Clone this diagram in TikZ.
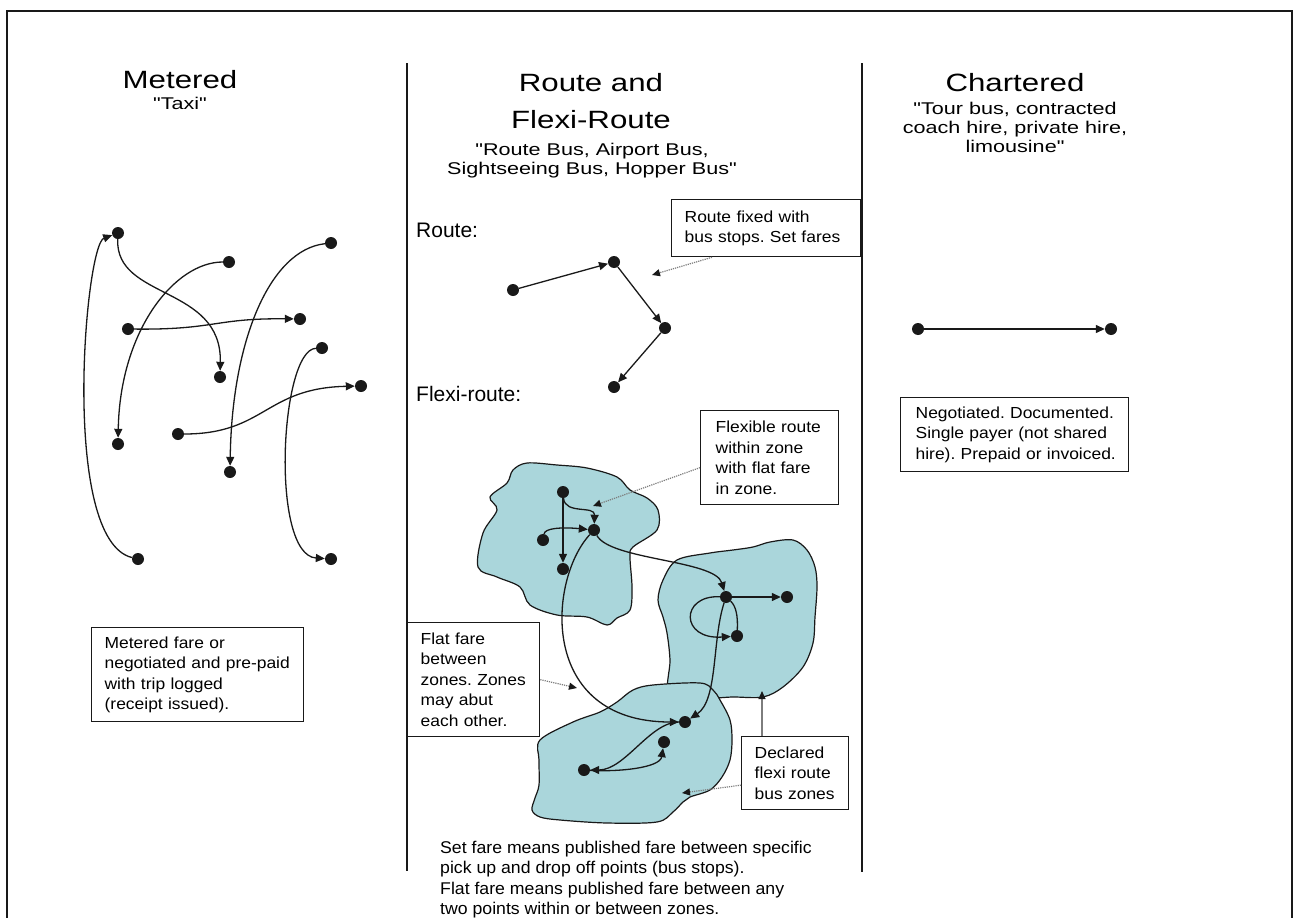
\documentclass[tikz,border=0pt]{standalone}
\usepackage{fontspec}
\setmainfont{Liberation Sans}
\newfontfamily\headfont{Liberation Sans}[FakeStretch=1.25]
\newfontfamily\subfont{Liberation Sans}[FakeStretch=1.27]
\newfontfamily\boxfont{Liberation Sans}[FakeStretch=1.09]
\newfontfamily\botfont{Liberation Sans}[FakeStretch=1.04]
\usetikzlibrary{arrows.meta,calc}
\definecolor{zonefill}{RGB}{170,214,219}
\definecolor{callgray}{RGB}{125,125,125}
\definecolor{ink}{RGB}{25,25,25}
\frenchspacing
\begin{document}
\begin{tikzpicture}[x=1pt,y=-1pt,
  dot/.style={circle,fill=ink,inner sep=0pt,minimum size=12pt},
  conn/.style={ink,line width=1.3pt,-{Triangle[length=9pt,width=8pt]}},
  plainconn/.style={ink,line width=1.3pt},
  callout/.style={callgray,line width=1.2pt,densely dotted,-{Triangle[length=8pt,width=7pt,color=ink]}},
  solidcallout/.style={callgray,line width=1.2pt,-{Triangle[length=8pt,width=7pt,color=ink]}},
  zone/.style={fill=zonefill,draw=ink,line width=1.2pt},
  head/.style={font=\headfont\fontsize{25}{30}\selectfont,anchor=base,inner sep=0pt},
  sub/.style={font=\subfont\fontsize{17}{20}\selectfont,anchor=base,inner sep=0pt},
  lab/.style={font=\fontsize{21}{25}\selectfont,anchor=base west,inner sep=0pt},
  txtbox/.style={draw=ink,line width=1.3pt,font=\boxfont\fontsize{16}{20.5}\selectfont,
     align=left,inner xsep=13pt,inner ysep=0pt,anchor=north west},
  bot/.style={font=\botfont\fontsize{17}{20}\selectfont,anchor=base west,inner sep=0pt}
]
\useasboundingbox (0,0) rectangle (1293,918);
% frame and dividers
\draw[ink,line width=1.5pt] (7,918) -- (7,11) -- (1292,11) -- (1292,918);
\draw[ink,line width=1.3pt] (407,63) -- (407,871);
\draw[ink,line width=1.3pt] (862,63) -- (862,872);

% headings
\node[head] (hmet) at (180,88) {Metered};
\node[sub] (smet) at (180,109) {"Taxi"};
\node[head] (hroute1) at (591,91) {Route and};
\node[head] (hroute2) at (591,128) {Flexi-Route};
\node[sub] (sroute1) at (592,155) {"Route Bus, Airport Bus,};
\node[sub] (sroute2) at (592,174) {Sightseeing Bus, Hopper Bus"};
\node[head] (hchar) at (1015,91) {Chartered};
\node[sub] (schar1) at (1015,114) {"Tour bus, contracted};
\node[sub] (schar2) at (1015,133) {coach hire, private hire,};
\node[sub] (schar3) at (1015,152) {limousine"};

% labels
\node[lab] (lroute) at (416,237) {Route:};
\node[lab] (lflexi) at (416,401) {Flexi-route:};

% text boxes
\node[txtbox,minimum width=189pt,minimum height=57pt,text width=163pt] (routebox) at (671,199)
  {\mbox{Route fixed with}\\\mbox{bus stops. Set fares}};
\node[txtbox,minimum width=212pt,minimum height=94pt,text width=186pt] (meterbox) at (91,627)
  {\mbox{Metered fare or}\\\mbox{negotiated and pre-paid}\\\mbox{with trip logged}\\\mbox{(receipt issued).}};
\node[txtbox,inner xsep=15pt,minimum width=228pt,minimum height=74pt,text width=198pt] (charbox) at (900,397)
  {\mbox{Negotiated. Documented.}\\\mbox{Single payer (not shared}\\\mbox{hire). Prepaid or invoiced.}};
\node[txtbox,inner xsep=15pt,minimum width=138pt,minimum height=94pt,text width=108pt] (flexbox) at (700,410)
  {\mbox{Flexible route}\\\mbox{within zone}\\\mbox{with flat fare}\\\mbox{in zone.}};
\node[txtbox,minimum width=132pt,minimum height=114pt,text width=106pt] (flatbox) at (407,622)
  {\mbox{Flat fare}\\\mbox{between}\\\mbox{zones. Zones}\\\mbox{may abut}\\\mbox{each other.}};
\node[txtbox,minimum width=107pt,minimum height=73pt,text width=81pt] (declbox) at (741,736)
  {\mbox{Declared}\\\mbox{flexi route}\\\mbox{bus zones}};

% bottom text
\node[bot] (b1) at (440,853) {Set fare means published fare between specific};
\node[bot] (b2) at (440,873) {pick up and drop off points (bus stops).};
\node[bot] (b3) at (440,894) {Flat fare means published fare between any};
\node[bot] (b4) at (440,914) {two points within or between zones.};

% zones
\draw[zone] plot[smooth cycle,tension=0.55] coordinates {
 (527,463) (557,465) (587,468) (617,477) (630,490) (647,498) (658,510) (657,530)
 (633,547) (630,557) (632,587) (630,610) (617,618) (607,625) (587,617) (557,615)
 (530,605) (520,587) (497,577) (478,567) (483,533) (497,510) (490,497) (507,483) (513,470)};
\draw[zone] plot[smooth cycle,tension=0.55] coordinates {
 (710,553) (733,550) (753,547) (770,542) (793,540) (807,550) (815,567) (817,587)
 (815,617) (813,643) (803,667) (783,687) (763,697) (733,697) (713,698) (670,698)
 (670,660) (667,633) (663,617) (658,600) (663,580) (677,560)};
\draw[zone] plot[smooth cycle,tension=0.55] coordinates {
 (617,702) (633,690) (653,685) (700,683) (713,690) (720,700) (730,720) (732,740)
 (730,760) (722,777) (710,790) (690,797) (683,802) (673,812) (657,822) (607,823)
 (560,820) (540,817) (532,810) (535,798) (539,785) (539,760) (540,740) (573,722) (600,712)};

% left panel dots
\node[dot] (P1) at (118,233) {};
\node[dot] (P2) at (229,262) {};
\node[dot] (P3) at (331,243) {};
\node[dot] (P4) at (128,329) {};
\node[dot] (P5) at (300,319) {};
\node[dot] (P6) at (220,377) {};
\node[dot] (P7) at (322,348) {};
\node[dot] (P8) at (361,386) {};
\node[dot] (P9) at (118,444) {};
\node[dot] (P10) at (178,434) {};
\node[dot] (P11) at (230,472) {};
\node[dot] (P12) at (138,559) {};
\node[dot] (P13) at (331,559) {};

\draw[conn] (P12) .. controls (60,540) and (85,245) .. (P1);
\draw[conn] (P1) .. controls (115,300) and (222,285) .. (P6);
\draw[conn] (P4) .. controls (215,330) and (215,318) .. (P5);
\draw[conn] (P2) .. controls (175,262) and (120,330) .. (P9);
\draw[conn] (P3) .. controls (270,250) and (232,340) .. (P11);
\draw[conn] (P10) .. controls (265,434) and (265,388) .. (P8);
\draw[conn] (P7) .. controls (280,350) and (270,555) .. (P13);

% route
\node[dot] (RA) at (513,290) {};
\node[dot] (RB) at (614,262) {};
\node[dot] (RC) at (665,328) {};
\node[dot] (RD) at (614,387) {};
\draw[conn] (RA) -- (RB);
\draw[conn] (RB) -- (RC);
\draw[conn] (RC) -- (RD);

% chartered
\node[dot] (Q1) at (918,329) {};
\node[dot] (Q2) at (1111,329) {};
\draw[conn] (Q1) -- (Q2);

% flexi
\node[dot] (Z1a) at (563,492) {};
\node[dot] (Z1b) at (594,530) {};
\node[dot] (Z1c) at (543,540) {};
\node[dot] (Z1d) at (563,569) {};
\node[dot] (Z2a) at (726,597) {};
\node[dot] (Z2b) at (787,597) {};
\node[dot] (Z2c) at (737,636) {};
\node[dot] (Z3a) at (685,722) {};
\node[dot] (Z3b) at (664,742) {};
\node[dot] (Z3c) at (584,770) {};

\draw[conn] (Z1a) -- (Z1d);
\draw[conn] (Z1a) .. controls (565,515) and (595,505) .. (Z1b);
\draw[conn] (Z1c) .. controls (545,528) and (562,527) .. (Z1b);
\draw[conn] (Z1b) .. controls (610,560) and (715,560) .. (Z2a);
\draw[conn] (Z1b) .. controls (548,580) and (538,722) .. (Z3a);
\draw[conn] (Z2a) -- (Z2b);
\draw[conn] (Z2a) .. controls (680,595) and (680,640) .. (Z2c);
\draw[plainconn] (Z2a) .. controls (736,606) and (738,616) .. (Z2c);
\draw[conn] (Z2a) .. controls (712,640) and (718,700) .. (Z3a);
\draw[conn] (Z3a) .. controls (650,722) and (625,770) .. (Z3c);
\draw[conn] (Z3c) .. controls (618,772) and (660,768) .. (Z3b);

% callouts
\coordinate (cRoute) at (652,275);
\coordinate (cFlex) at (593,506);
\coordinate (cFlat) at (577,688);
\coordinate (cDecl1) at (682,793);
\coordinate (cDecl2) at (762,691);
\draw[callout] ($(routebox.south west)+(41,0)$) -- (cRoute);
\draw[callout] ($(flexbox.west)+(0,10)$) -- (cFlex);
\draw[callout] (flatbox.east) -- (cFlat);
\draw[callout] ($(declbox.west)+(0,12)$) -- (cDecl1);
\draw[solidcallout] ($(declbox.north west)+(21,0)$) -- (cDecl2);
\end{tikzpicture}
\end{document}
